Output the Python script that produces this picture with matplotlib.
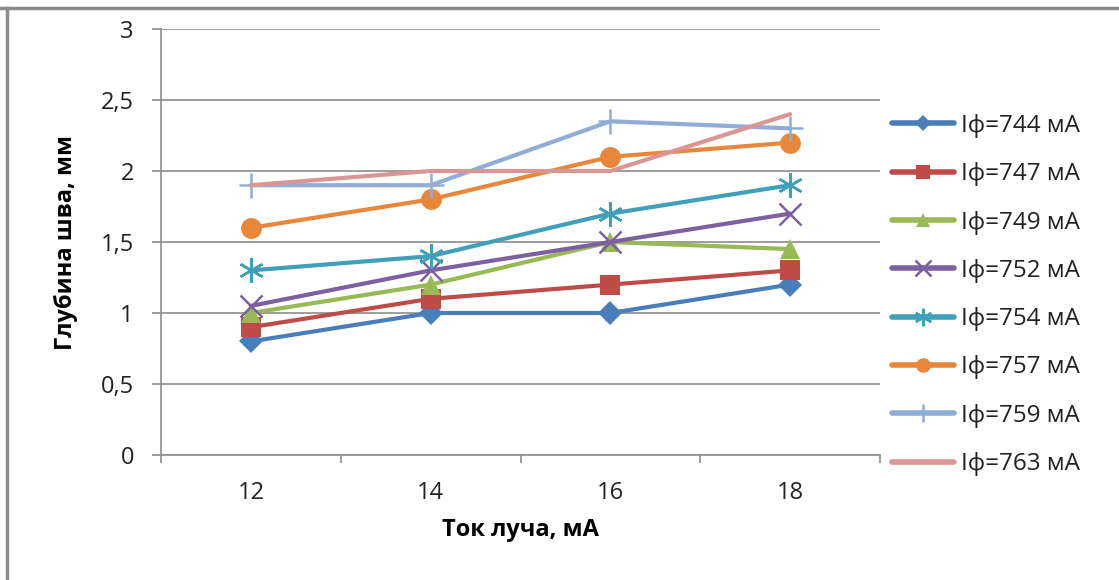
import numpy as np
import matplotlib.pyplot as plt
from matplotlib.lines import Line2D
from matplotlib.ticker import FuncFormatter

plt.rcParams['font.family'] = ['Open Sans', 'DejaVu Sans']

currents = [12, 14, 16, 18]
labels = ["Iф=744 мА", "Iф=747 мА", "Iф=749 мА", "Iф=752 мА",
          "Iф=754 мА", "Iф=757 мА", "Iф=759 мА", "Iф=763 мА"]
depth_744 = [0.8, 1.0, 1.0, 1.2]
depth_747 = [0.9, 1.1, 1.2, 1.3]
depth_749 = [1.0, 1.2, 1.5, 1.45]
depth_752 = [1.05, 1.3, 1.5, 1.7]
depth_754 = [1.3, 1.4, 1.7, 1.9]
depth_757 = [1.6, 1.8, 2.1, 2.2]
depth_759 = [1.9, 1.9, 2.35, 2.3]
depth_763 = [1.9, 2.0, 2.0, 2.4]

series = [depth_744, depth_747, depth_749, depth_752,
          depth_754, depth_757, depth_759, depth_763]
colors = ['#4A7EBB', '#BE4B48', '#98B954', '#7D60A0',
          '#3FA0B8', '#E8873A', '#90ADD8', '#D99694']
markers = ['D', 's', '^', 'x', (6, 2, 0), 'o', '+', None]
msizes = [12, 14, 14, 16, 18, 15, 18, 0]
medges = [0, 0, 0, 1.8, 1.8, 0, 1.8, 0]

fig = plt.figure(figsize=(11.19, 5.8), dpi=100)
ax = fig.add_axes([161 / 1119, 125 / 580, 719 / 1119, 426 / 580])

pos = np.arange(len(currents))
for ys, c, m, ms, mew, lab in zip(series, colors, markers, msizes, medges, labels):
    ax.plot(pos, ys, color=c, lw=3, marker=m, markersize=ms,
            markeredgewidth=mew, markeredgecolor=c, label=lab,
            solid_capstyle='round', clip_on=False)

ax.set_xlim(-0.5, 3.5)
ax.set_ylim(0, 3)
ax.set_yticks(np.arange(0, 3.01, 0.5))
ax.yaxis.set_major_formatter(FuncFormatter(lambda v, p: ('%g' % v).replace('.', ',')))
ax.set_xticks(pos)
ax.set_xticklabels([str(c) for c in currents])
ax.set_xticks(np.arange(-0.5, 3.6, 1), minor=True)
ax.tick_params(axis='x', which='major', length=0, pad=19, labelsize=17, colors='#222222')
ax.tick_params(axis='x', which='minor', length=6, width=1.2, color='#8c8c8c', direction='out')
ax.tick_params(axis='y', length=6.5, width=1.2, color='#8c8c8c', pad=13, labelsize=17,
               labelcolor='#222222')

ax.grid(axis='y', color='#8c8c8c', lw=1.2)
ax.set_axisbelow(True)
for s in ['top', 'right']:
    ax.spines[s].set_visible(False)
for s in ['left', 'bottom']:
    ax.spines[s].set_color('#8c8c8c')
    ax.spines[s].set_linewidth(1.2)

ax.set_xlabel("Ток луча, мА", fontsize=17, fontweight='bold', labelpad=9)
ax.set_ylabel("Глубина шва, мм", fontsize=17, fontweight='bold', labelpad=16)

leg = ax.legend(loc='center left', bbox_to_anchor=(870 / 1119, 285 / 580),
                bbox_transform=fig.transFigure, frameon=False, fontsize=17.5,
                handlelength=2.55, handletextpad=0.3, labelspacing=1.0,
                markerscale=0.7)
for t in leg.get_texts():
    t.set_color('#222222')
for h in leg.get_lines():
    h.set_linewidth(4)
    h.set_solid_capstyle('round')

# outer frame lines
fig.add_artist(Line2D([0, 1], [1 - 8 / 580, 1 - 8 / 580], color='#8c8c8c', lw=2.5))
fig.add_artist(Line2D([7 / 1119, 7 / 1119], [0, 1 - 8 / 580], color='#8c8c8c', lw=2.5))

fig.savefig('out.png', dpi=100)
